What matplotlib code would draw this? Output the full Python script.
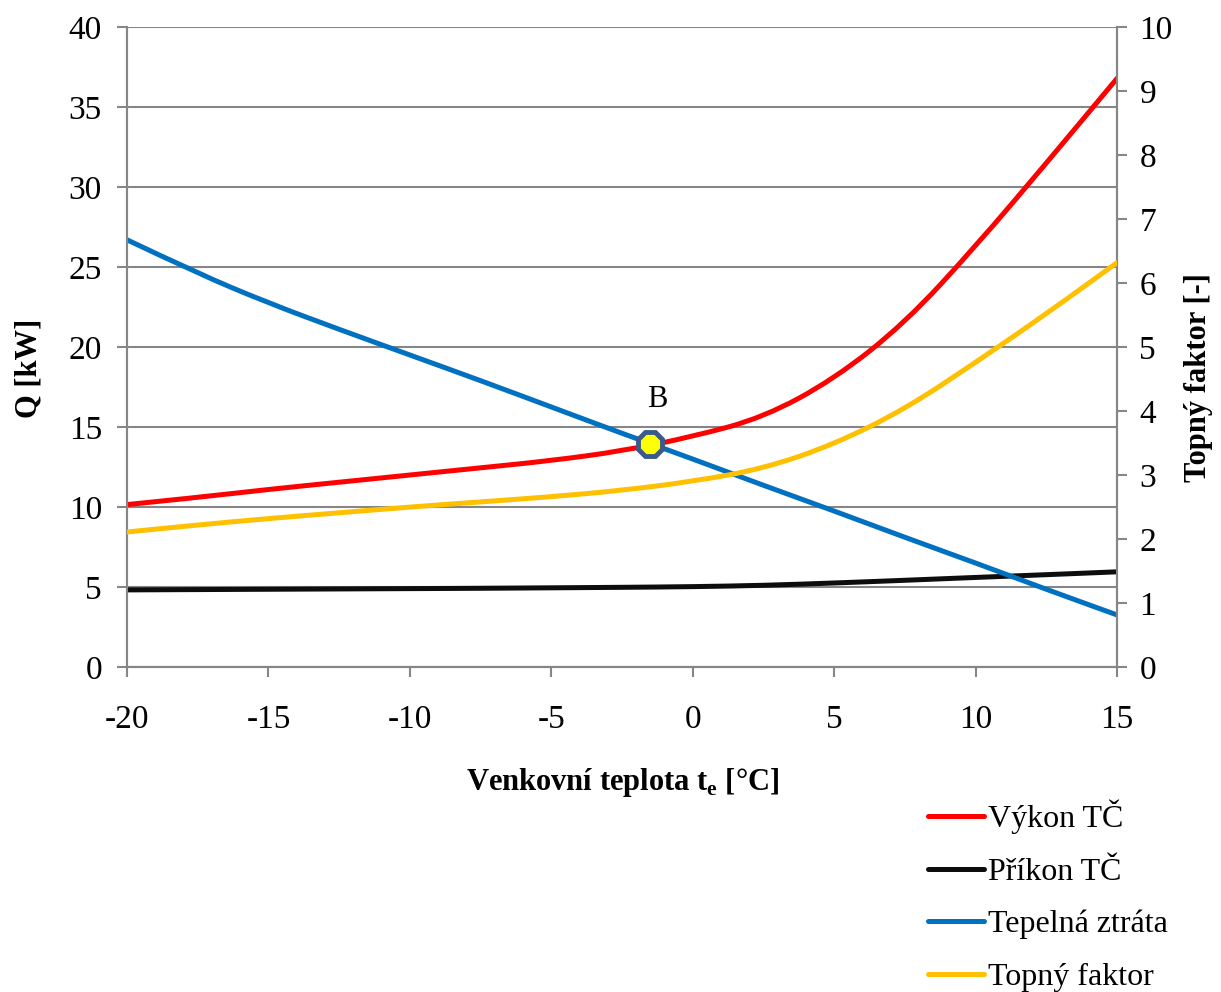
import matplotlib
matplotlib.use('Agg')
import matplotlib.pyplot as plt
from matplotlib.path import Path
from matplotlib.patches import PathPatch
from matplotlib.lines import Line2D

# Data
te = [-20, -17.5, -15, -12.5, -10, -7.5, -5, -2.5, 0, 2.5, 5, 7.5, 10, 12.5, 15]
vykon   = [10.15, 10.6, 11.1, 11.55, 12.0, 12.45, 12.9, 13.5, 14.4, 15.6, 18.0, 21.5, 26.3, 31.5, 36.8]
prikon  = [4.82, 4.84, 4.86, 4.88, 4.9, 4.92, 4.95, 4.98, 5.02, 5.1, 5.25, 5.42, 5.6, 5.77, 5.95]
ztrata  = [26.7, 24.6, 22.75, 21.1, 19.5, 17.9, 16.25, 14.6, 13.0, 11.35, 9.75, 8.1, 6.5, 4.85, 3.25]
faktor  = [2.11, 2.22, 2.32, 2.41, 2.50, 2.58, 2.66, 2.76, 2.90, 3.10, 3.48, 4.03, 4.76, 5.52, 6.32]
bod_b = (-1.5, 13.95)

x_ticks = [-20, -15, -10, -5, 0, 5, 10, 15]
y1_ticks = [0, 5, 10, 15, 20, 25, 30, 35, 40]
y2_ticks = list(range(0, 11))

# Styles
plt.rcParams['font.family'] = ['Liberation Serif', 'DejaVu Serif']
plt.rcParams['mathtext.fontset'] = 'custom'
plt.rcParams['mathtext.rm'] = 'Liberation Serif'
plt.rcParams['mathtext.bf'] = 'Liberation Serif:bold'
plt.rcParams['axes.unicode_minus'] = False
tick_size = 24
label_size = 22
legend_size = 23
grid_color = '#868686'
line_width = 3.6


def smooth_line(ax, xs, ys, color, zorder=3):
    # quadratic bezier through midpoints, drawn by matplotlib's path machinery
    pts = list(zip(xs, ys))
    verts = [pts[0]]
    codes = [Path.MOVETO]
    for i in range(1, len(pts) - 1):
        mid = ((pts[i][0] + pts[i + 1][0]) / 2, (pts[i][1] + pts[i + 1][1]) / 2)
        verts += [pts[i], mid]
        codes += [Path.CURVE3, Path.CURVE3]
    verts.append(pts[-1])
    codes.append(Path.LINETO)
    patch = PathPatch(Path(verts, codes), facecolor='none', edgecolor=color,
                      linewidth=line_width, capstyle='round', joinstyle='round', zorder=zorder)
    ax.add_patch(patch)


fig = plt.figure(figsize=(12.21, 9.92), dpi=100)
ax1 = fig.add_axes([0.104, 0.3276, 0.811, 0.6452])
ax2 = ax1.twinx()

colors = {'Výkon TČ': '#FF0000', 'Příkon TČ': '#0D0D0D',
          'Tepelná ztráta': '#0070C0', 'Topný faktor': '#FFC000'}

smooth_line(ax1, te, vykon, colors['Výkon TČ'])
smooth_line(ax1, te, prikon, colors['Příkon TČ'])
smooth_line(ax1, te, ztrata, colors['Tepelná ztráta'])
smooth_line(ax2, te, faktor, colors['Topný faktor'])

# Point B
ax2.plot(bod_b[0], bod_b[1] / 4, marker='8', markersize=19, markerfacecolor='#FFFF00',
         markeredgecolor='#3B5A8C', markeredgewidth=3.5, linestyle='none', zorder=5)
ax2.text(bod_b[0] + 0.25, bod_b[1] / 4 + 0.7, 'B', fontsize=label_size, ha='center', va='center')

ax1.set_xlim(-20, 15)
ax1.set_ylim(0, 40)
ax2.set_ylim(0, 10)
ax1.set_xticks(x_ticks)
ax1.set_yticks(y1_ticks)
ax2.set_yticks(y2_ticks)

ax1.grid(axis='y', color=grid_color, linewidth=1.5)
ax1.set_axisbelow(True)

for ax in (ax1, ax2):
    ax.spines['top'].set_visible(False)
    for s in ('left', 'right', 'bottom'):
        ax.spines[s].set_color(grid_color)
        ax.spines[s].set_linewidth(1.5)
    ax.tick_params(direction='out', length=7, width=1.5, color=grid_color, labelsize=tick_size)

ax1.tick_params(axis='x', pad=20)
ax1.tick_params(axis='y', pad=11)
ax2.tick_params(axis='y', pad=9)

ax1.set_ylabel('Q [kW]', fontsize=label_size, fontweight='bold', labelpad=18)
ax2.set_ylabel('Topný faktor [-]', fontsize=label_size, fontweight='bold', labelpad=8)
ax1.yaxis.label.set_y(0.467)
ax2.yaxis.label.set_y(0.452)
ax1.set_xlabel(r'Venkovní teplota t$_\mathbf{e}$ [°C]', fontsize=label_size,
               fontweight='bold', labelpad=22)

handles = [Line2D([], [], color=c, linewidth=line_width, solid_capstyle='round')
           for c in colors.values()]
fig.legend(handles=handles, labels=list(colors.keys()), loc='upper left',
           bbox_to_anchor=(928 / 1221, 1 - 800 / 992), frameon=False,
           fontsize=legend_size, handlelength=1.75, handletextpad=0.12,
           labelspacing=0.72, borderpad=0, borderaxespad=0)

fig.savefig('out.png', dpi=100)
